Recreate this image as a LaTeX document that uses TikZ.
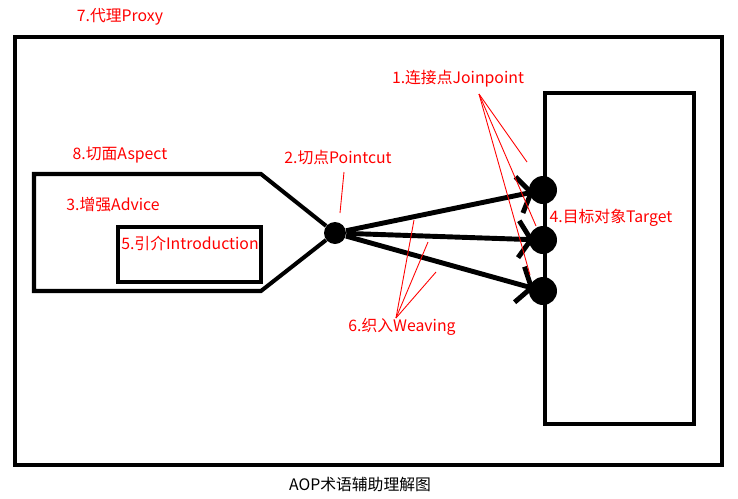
\documentclass[tikz,border=0pt]{standalone}
\usepackage{fontspec}
\usepackage{tikz}
\usetikzlibrary{arrows.meta,positioning}
\newfontfamily\cjk{Noto Sans CJK SC}
\tikzset{
  lbl/.style = {text = red, font = \cjk\fontsize{9}{11}\selectfont, inner sep = 0pt},
  dot/.style = {shape = circle, fill = black, inner sep = 0pt, minimum size = 0.56cm},
  thickbox/.style = {line width = 2.6pt},
  hint/.style = {draw = red, line width = 0.5pt},
  weave/.style = {line width = 2.8pt, shorten > = -3pt, -{Straight Barb[length = 7pt, width = 21pt]}}
}

\begin{document}
\begin{tikzpicture}[x = 0.02cm, y = -0.02cm]
\useasboundingbox (0,0) rectangle (738,498);
% proxy and target boxes
\draw[thickbox] (15,37) rectangle (722,465);
\draw[thickbox] (545,93) rectangle (694,424);
% pointcut and joinpoints
\node[dot, minimum size = 0.44cm] (10) at (335,233) {};
\node[dot] (11) at (543,190) {};
\node[dot] (12) at (543,240) {};
\node[dot] (13) at (543,291) {};
% aspect with the introduction inside
\draw[line width = 2.3pt, line join = miter] (10) -- (261,174) -- (34,174) -- (34,291) -- (261,291) -- (10);
\draw[line width = 2.3pt] (118,227) rectangle (261,282);
\draw[weave] (10) -- (11);
\draw[weave] (10) -- (12);
\draw[weave] (10) -- (13);
% labels
\node[lbl] (20) at (120,17)  {7.代理Proxy};
\node[lbl] (21) at (120,155) {8.切面Aspect};
\node[lbl] (22) at (113,205) {3.增强Advice};
\node[lbl] (23) at (190,243) {5.引介Introduction};
\node[lbl] (24) at (338,157) {2.切点Pointcut};
\node[lbl] (25) at (458,79)  {1.连接点Joinpoint};
\node[lbl] (26) at (611,218) {4.目标对象Target};
\node[lbl] (27) at (402,327) {6.织入Weaving};
\node[lbl, text = black] (28) at (360,484) {AOP术语辅助理解图};
\begin{scope}[hint]
\coordinate (30) at (479,94);
\coordinate (31) at (396,318);
\draw (30) -- (527,162);
\draw (30) -- (536,226);
\draw (30) -- (530,275);
\draw (344,172) -- (340,213);
\draw (31) -- (414,220);
\draw (31) -- (428,242);
\draw (31) -- (436,272);
\end{scope}
\end{tikzpicture}
\end{document}
